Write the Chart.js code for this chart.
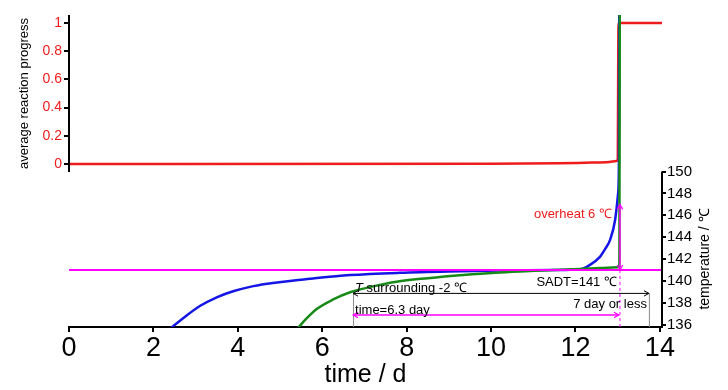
<!DOCTYPE html>
<html><head><meta charset="utf-8">
<script src="https://cdn.jsdelivr.net/npm/chart.js@4/dist/chart.umd.min.js"></script>
<style>html,body{margin:0;padding:0;background:#fff;} #wrap{width:728px;height:390px;position:relative;}</style>
</head><body><div id="wrap"><canvas id="c" width="728" height="390"></canvas></div>
<script>
// ---- tick labels ----
const timeTicks = [0, 2, 4, 6, 8, 10, 12, 14];
const progressTicks = [0, 0.2, 0.4, 0.6, 0.8, 1];
const tempTicks = [136, 138, 140, 142, 144, 146, 148, 150];

// ---- average reaction progress (left axis) ----
const progressTime  = [0, 10, 11.6, 12.4, 12.8, 12.97, 13.0, 13.02, 14.1];
const progressValue = [0, 0.002, 0.005, 0.01, 0.015, 0.022, 0.03, 1.0, 1.0];

// ---- temperature, surrounding = SADT (blue) ----
const blueTime = [2.42, 2.71, 3.1, 3.5, 3.89, 4.29, 4.7, 5.08, 5.5, 5.87, 6.66, 7.84, 9.0, 10.2, 11.5, 12.11, 12.34, 12.58, 12.7, 12.82, 12.94, 13.01, 13.03, 13.04];
const blueTemp = [135.7, 136.6, 137.7, 138.5, 139.05, 139.45, 139.73, 139.93, 140.1, 140.26, 140.53, 140.74, 140.86, 140.94, 140.99, 141.06, 141.46, 142.2, 142.9, 143.75, 145.6, 148.0, 151, 170];

// ---- temperature, surrounding -2 ℃ (green) ----
const greenTime = [5.43, 5.6, 5.87, 6.26, 6.66, 7.2, 7.76, 8.5, 9.34, 10.1, 10.92, 11.5, 12.1, 12.6, 13.0, 13.04, 13.05];
const greenTemp = [135.7, 136.45, 137.43, 138.3, 138.96, 139.5, 139.93, 140.25, 140.54, 140.75, 140.9, 141.0, 141.08, 141.17, 141.25, 141.3, 170];

// ---- SADT line ----
const sadtTime = [0, 14.05];
const sadtTemp = [141, 141];

// ---- annotation values ----
const sadtValue = 141;
const overheatTop = 147;
const runawayDay = 13.03;
const startDay = 6.73;
const limitDay = 13.74;
const surroundArrowTemp = 138.9;
const timeArrowTemp = 136.88;

const pts = (xs, ys) => xs.map((x, i) => ({x, y: ys[i]}));

const RED = '#ee1c1c', BLUE = '#1515e6', GREEN = '#178a17', MAG = '#ff00ff';
const NARROW = '"Liberation Sans Narrow", "Liberation Sans", Arial, sans-serif';
const SANS = '"Liberation Sans", Arial, sans-serif';

function arrowHead(ctx, x, y, dir, size) {
  ctx.beginPath();
  const s = size, w = size * 0.55;
  if (dir === 'l') { ctx.moveTo(x + s, y - w); ctx.lineTo(x, y); ctx.lineTo(x + s, y + w); }
  if (dir === 'r') { ctx.moveTo(x - s, y - w); ctx.lineTo(x, y); ctx.lineTo(x - s, y + w); }
  if (dir === 'u') { ctx.moveTo(x - w, y + s); ctx.lineTo(x, y); ctx.lineTo(x + w, y + s); }
  if (dir === 'd') { ctx.moveTo(x - w, y - s); ctx.lineTo(x, y); ctx.lineTo(x + w, y - s); }
  ctx.stroke();
}

const decor = {
  id: 'decor',
  afterDatasetsDraw(chart) {
    const {ctx, chartArea: ca} = chart;
    const xs = chart.scales.x, y1 = chart.scales.y1, y2 = chart.scales.y2;
    ctx.save();
    const xR = xs.getPixelForValue(runawayDay);
    const xS = xs.getPixelForValue(startDay);
    const xL = xs.getPixelForValue(limitDay);
    const yS = y2.getPixelForValue(sadtValue);
    const yO = y2.getPixelForValue(overheatTop);
    const yA = y2.getPixelForValue(surroundArrowTemp);
    const yB = y2.getPixelForValue(timeArrowTemp);
    // gray verticals
    ctx.strokeStyle = '#8a8a8a'; ctx.lineWidth = 1;
    ctx.beginPath(); ctx.moveTo(xS + 0.5, yA - 1); ctx.lineTo(xS + 0.5, ca.bottom); ctx.stroke();
    ctx.beginPath(); ctx.moveTo(xL + 0.5, yA); ctx.lineTo(xL + 0.5, ca.bottom); ctx.stroke();
    // magenta dashed vertical
    ctx.strokeStyle = MAG; ctx.lineWidth = 1;
    ctx.setLineDash([3, 3]);
    ctx.beginPath(); ctx.moveTo(xR + 1, yS); ctx.lineTo(xR + 1, ca.bottom); ctx.stroke();
    ctx.setLineDash([]);
    // overheat double arrow
    ctx.lineWidth = 1.5;
    ctx.beginPath(); ctx.moveTo(xR + 1, yO); ctx.lineTo(xR + 1, yS); ctx.stroke();
    ctx.lineWidth = 1.2;
    arrowHead(ctx, xR + 1, yO, 'u', 5);
    arrowHead(ctx, xR + 1, yS, 'd', 5);
    // black arrow
    ctx.strokeStyle = '#000'; ctx.lineWidth = 1;
    ctx.beginPath(); ctx.moveTo(xS, yA + 0.5); ctx.lineTo(xL, yA + 0.5); ctx.stroke();
    arrowHead(ctx, xS, yA + 0.5, 'l', 5);
    arrowHead(ctx, xL, yA + 0.5, 'r', 5);
    // magenta time arrow
    ctx.strokeStyle = MAG; ctx.lineWidth = 1.5;
    ctx.beginPath(); ctx.moveTo(xS, yB); ctx.lineTo(xR, yB); ctx.stroke();
    ctx.lineWidth = 1.2;
    arrowHead(ctx, xS, yB, 'l', 5);
    arrowHead(ctx, xR, yB, 'r', 5);

    // texts
    ctx.textBaseline = 'middle';
    ctx.font = '13px ' + NARROW;
    ctx.fillStyle = RED; ctx.textAlign = 'right';
    ctx.fillText('overheat 6 \u2103', xR - 7, y2.getPixelForValue(146.1));
    ctx.fillStyle = '#000';
    ctx.fillText('SADT=141 \u2103', xR - 2, y2.getPixelForValue(139.87));
    ctx.fillText('7 day or less', xL - 2, y2.getPixelForValue(137.85));
    ctx.textAlign = 'left';
    ctx.font = 'italic 13px ' + NARROW;
    ctx.fillText('T', xS + 2, y2.getPixelForValue(139.3));
    const tw = ctx.measureText('T').width;
    ctx.font = '13px ' + NARROW;
    ctx.fillText(' surrounding -2 \u2103', xS + 2 + tw, y2.getPixelForValue(139.3));
    ctx.fillText('time=6.3 day', xS + 2, y2.getPixelForValue(137.3));

    // axis lines
    ctx.strokeStyle = '#000'; ctx.lineWidth = 2;
    ctx.beginPath(); ctx.moveTo(ca.left, ca.top); ctx.lineTo(ca.left, y1.getPixelForValue(-0.056)); ctx.stroke();
    ctx.beginPath(); ctx.moveTo(ca.right, y2.getPixelForValue(150)); ctx.lineTo(ca.right, ca.bottom); ctx.stroke();

    // axis titles
    ctx.fillStyle = '#000'; ctx.textAlign = 'center'; ctx.textBaseline = 'middle';
    ctx.font = '13px ' + SANS;
    ctx.save();
    ctx.translate(24, y1.getPixelForValue(0.5));
    ctx.rotate(-Math.PI / 2);
    ctx.fillText('average reaction progress', 0, 0);
    ctx.restore();
    ctx.font = '14px ' + SANS;
    ctx.save();
    ctx.translate(705, y2.getPixelForValue(142.0));
    ctx.rotate(-Math.PI / 2);
    ctx.fillText('temperature / \u2103', 0, 0);
    ctx.restore();
    ctx.restore();
  }
};

new Chart(document.getElementById('c'), {
  type: 'line',
  data: {
    datasets: [
      {label: 'SADT', data: pts(sadtTime, sadtTemp), yAxisID: 'y2', borderColor: MAG, borderWidth: 2, pointRadius: 0, tension: 0},
      {label: 'surrounding -2', data: pts(greenTime, greenTemp), yAxisID: 'y2', borderColor: GREEN, borderWidth: 2.5, pointRadius: 0, cubicInterpolationMode: 'monotone'},
      {label: 'surrounding SADT', data: pts(blueTime, blueTemp), yAxisID: 'y2', borderColor: BLUE, borderWidth: 2.5, pointRadius: 0, cubicInterpolationMode: 'monotone'},
      {label: 'progress', data: pts(progressTime, progressValue), yAxisID: 'y1', borderColor: RED, borderWidth: 2.5, pointRadius: 0, cubicInterpolationMode: 'monotone'}
    ]
  },
  options: {
    responsive: false, animation: false, devicePixelRatio: 1,
    layout: {padding: {top: 15, left: 0, right: 0, bottom: 0}},
    plugins: {legend: {display: false}, tooltip: {enabled: false}},
    scales: {
      x: {
        type: 'linear', min: 0, max: 14.05,
        afterBuildTicks: s => { s.ticks = timeTicks.map(v => ({value: v})); },
        afterFit: s => { s.height = 63; },
        grid: {drawOnChartArea: false, drawTicks: true, tickLength: 5, color: '#000', lineWidth: 2},
        border: {display: true, color: '#000', width: 2},
        ticks: {color: '#000', font: {family: NARROW, size: 27}, padding: 0, maxRotation: 0, autoSkip: false, callback: v => String(v)},
        title: {display: true, text: 'time / d', color: '#000', font: {family: NARROW, size: 25}, padding: {top: 0, bottom: 0}}
      },
      y1: {
        type: 'linear', position: 'left', min: -1.156, max: 1.057,
        afterBuildTicks: s => { s.ticks = progressTicks.map(v => ({value: v})); },
        afterFit: s => { s.width = 69; },
        grid: {drawOnChartArea: false, drawTicks: true, tickLength: 5, color: '#000', lineWidth: 2},
        border: {display: false},
        ticks: {color: RED, font: {family: SANS, size: 14}, padding: 2, autoSkip: false, callback: v => String(v)}
      },
      y2: {
        type: 'linear', position: 'right', min: 135.78, max: 164.33,
        afterBuildTicks: s => { s.ticks = tempTicks.map(v => ({value: v})); },
        afterFit: s => { s.width = 66; },
        grid: {drawOnChartArea: false, drawTicks: true, tickLength: 4, color: '#000', lineWidth: 2},
        border: {display: false},
        ticks: {color: '#000', font: {family: NARROW, size: 15}, padding: 1, autoSkip: false, callback: v => String(v)}
      }
    }
  },
  plugins: [decor]
});
</script>
</body></html>
